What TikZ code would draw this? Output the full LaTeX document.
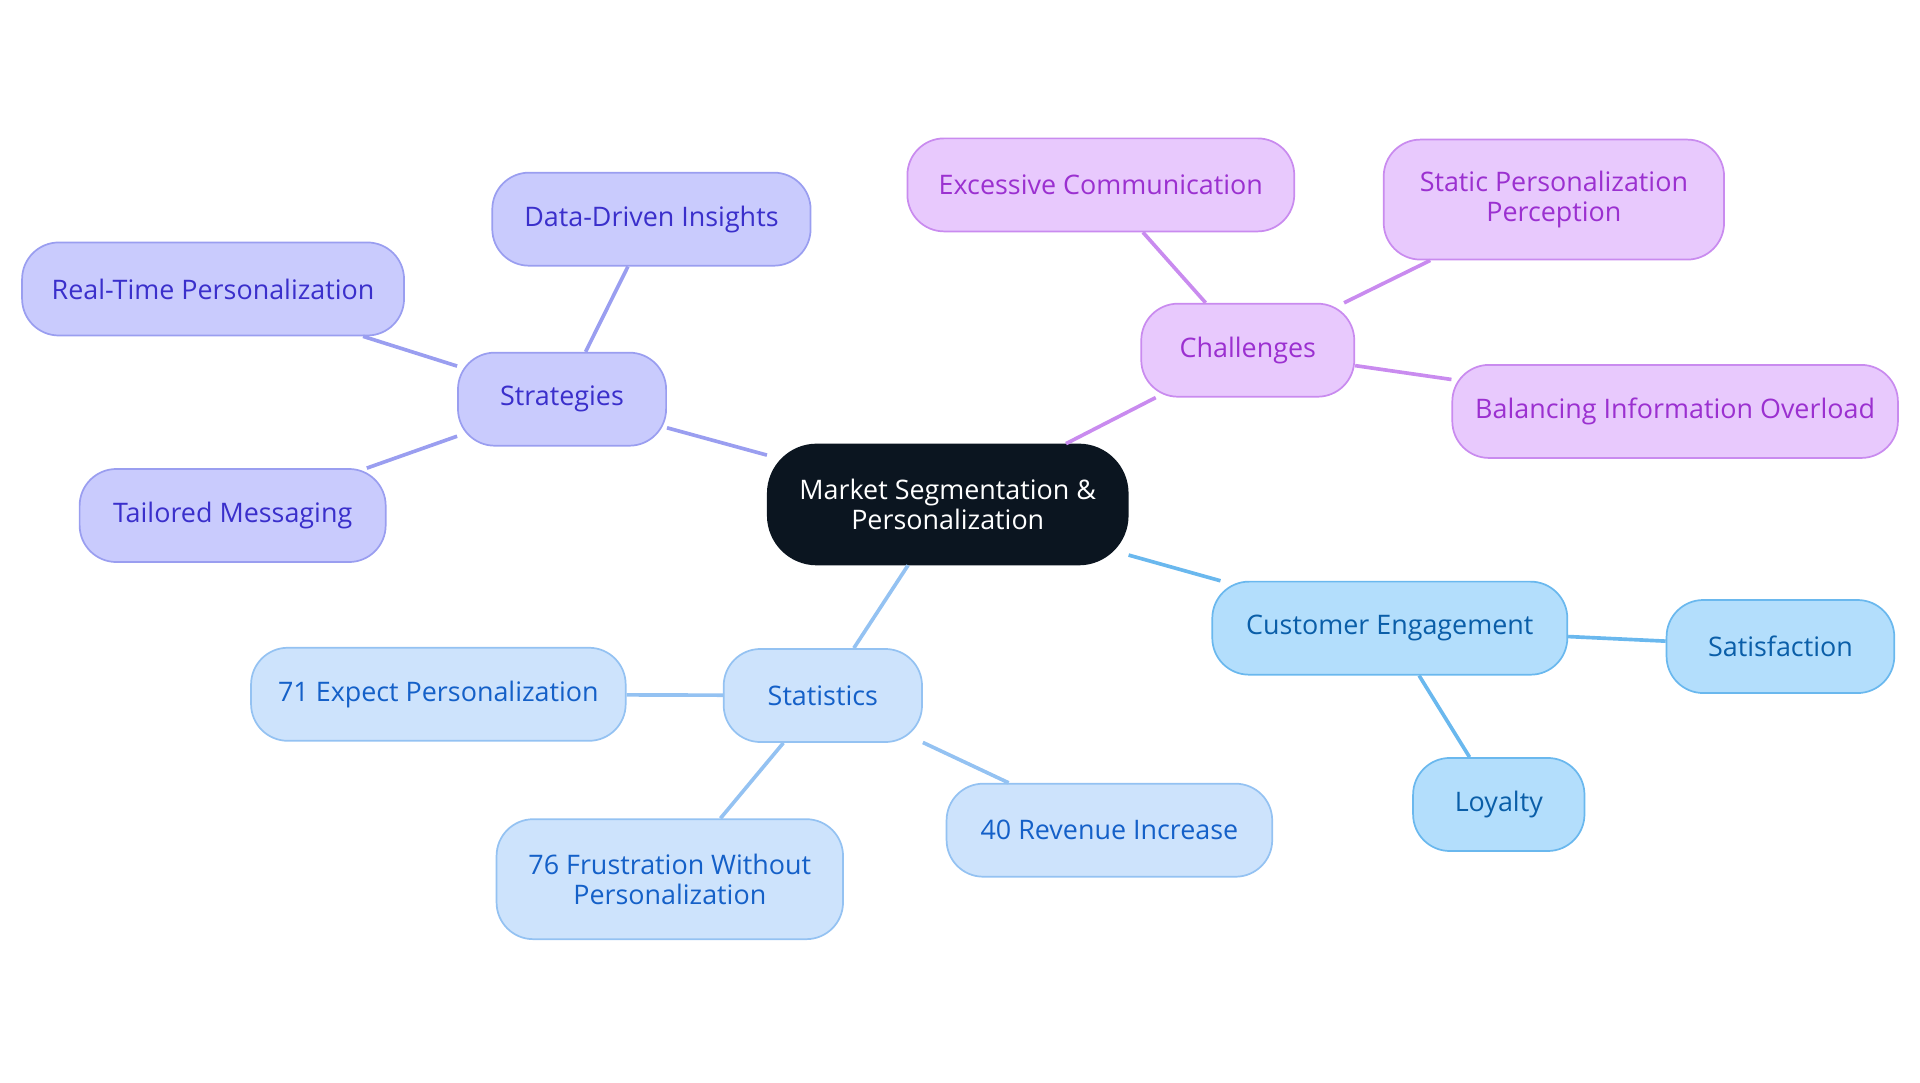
\documentclass[tikz,border=0pt]{standalone}
\usepackage{fontspec}
\setmainfont{Open Sans}
\definecolor{rootfill}{HTML}{0B1520}
\definecolor{strfill}{HTML}{C9CBFD}\definecolor{strline}{HTML}{9A9EF0}\definecolor{strtext}{HTML}{3A2FCB}
\definecolor{chafill}{HTML}{E8C9FD}\definecolor{chaline}{HTML}{C98BEF}\definecolor{chatext}{HTML}{9B30D0}
\definecolor{cusfill}{HTML}{B3DEFC}\definecolor{cusline}{HTML}{6AB8EE}\definecolor{custext}{HTML}{0A5EA8}
\definecolor{stafill}{HTML}{CDE3FC}\definecolor{staline}{HTML}{94C2F2}\definecolor{statext}{HTML}{1460C8}
\begin{document}
\begin{tikzpicture}[x=0.02cm,y=-0.02cm,
                    font=\fontsize{12.5}{14}\selectfont,
                    box/.style={rectangle,rounded corners=0.6cm,draw,line width=0.8pt,minimum height=1.52cm,align=center,inner sep=2pt},
                    root/.style={box,fill=rootfill,draw=rootfill,text=white,rounded corners=0.8cm},
                    str/.style={box,fill=strfill,draw=strline,text=strtext},
                    cha/.style={box,fill=chafill,draw=chaline,text=chatext},
                    cus/.style={box,fill=cusfill,draw=cusline,text=custext},
                    sta/.style={box,fill=stafill,draw=staline,text=statext},
                    link/.style={line width=1.7pt}
                   ]
  \useasboundingbox (0,0) rectangle (1568,884);

  \node[root,minimum width=5.88cm,minimum height=1.96cm] (m) at (774,412) {Market Segmentation \&\\Personalization};

  \node[str,minimum width=3.4cm] (s) at (459,326) {Strategies};
  \node[str,minimum width=5.2cm] (s1) at (532,179) {Data-Driven Insights};
  \node[str,minimum width=6.24cm] (s2) at (174,236) {Real-Time Personalization};
  \node[str,minimum width=5cm] (s3) at (190,421) {Tailored Messaging};

  \node[cha,minimum width=3.48cm] (c) at (1019,286) {Challenges};
  \node[cha,minimum width=6.32cm] (c1) at (899,151) {Excessive Communication};
  \node[cha,minimum width=5.56cm,minimum height=1.96cm] (c2) at (1269,163) {Static Personalization\\Perception};
  \node[cha,minimum width=7.28cm] (c3) at (1368,336) {Balancing Information Overload};

  \node[cus,minimum width=5.8cm] (e) at (1135,513) {Customer Engagement};
  \node[cus,minimum width=3.72cm] (e1) at (1454,528) {Satisfaction};
  \node[cus,minimum width=2.8cm] (e2) at (1224,657) {Loyalty};

  \node[sta,minimum width=3.24cm] (t) at (672,568) {Statistics};
  \node[sta,minimum width=6.12cm] (t1) at (358,567) {71 Expect Personalization};
  \node[sta,minimum width=5.66cm,minimum height=1.96cm] (t2) at (547,718) {76 Frustration Without\\Personalization};
  \node[sta,minimum width=5.32cm] (t3) at (906,678) {40 Revenue Increase};

  \path[link,draw=strline]
   (m) edge (s)
   (s) edge (s1)
   (s) edge (s2)
   (s) edge (s3);
  \path[link,draw=chaline]
   (m) edge (c)
   (c) edge (c1)
   (c) edge (c2)
   (c) edge (c3);
  \path[link,draw=cusline]
   (m) edge (e)
   (e) edge (e1)
   (e) edge (e2);
  \path[link,draw=staline]
   (m) edge (t)
   (t) edge (t1)
   (t) edge (t2)
   (t) edge (t3);
\end{tikzpicture}
\end{document}
